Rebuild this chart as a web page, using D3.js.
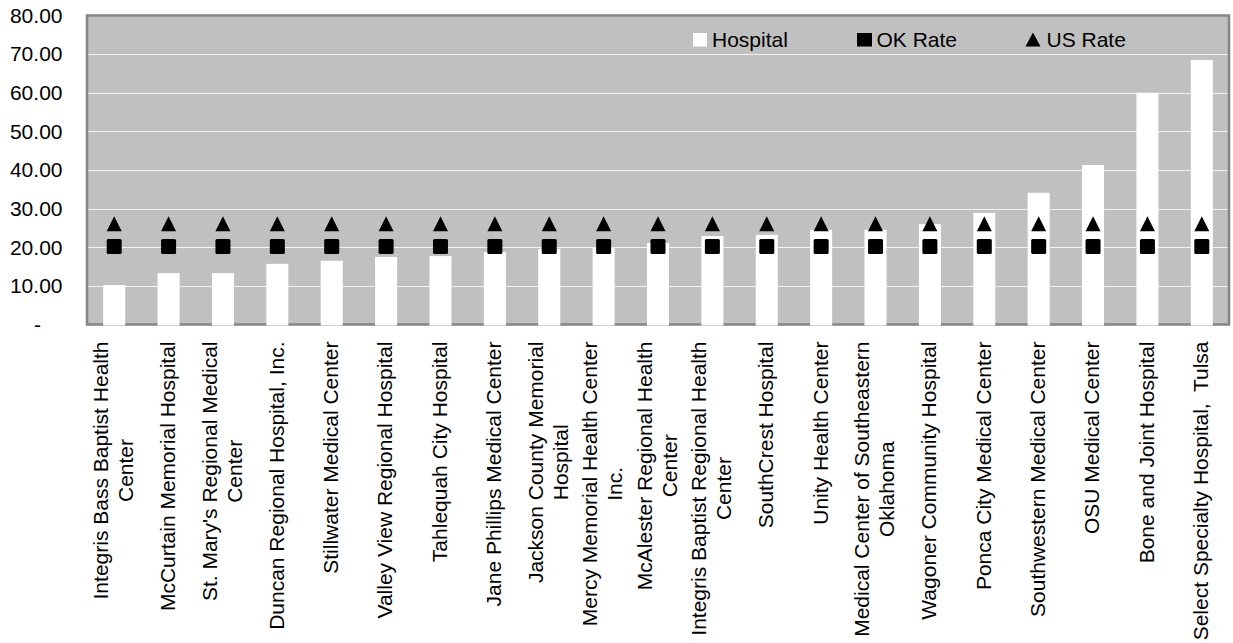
<!DOCTYPE html>
<html>
<head>
<meta charset="utf-8">
<script src="https://cdn.jsdelivr.net/npm/d3@7"></script>
<style>
  html, body { margin: 0; padding: 0; background: #ffffff; }
  svg { display: block; font-family: "Liberation Sans", Arial, sans-serif; }
</style>
</head>
<body>
<svg id="chart" width="1233" height="643"></svg>
<script>
// ---- data ----
const categories = [
  "Integris Bass Baptist Health\nCenter",
  "McCurtain Memorial Hospital",
  "St. Mary's Regional Medical\nCenter",
  "Duncan Regional Hospital, Inc.",
  "Stillwater Medical Center",
  "Valley View Regional Hospital",
  "Tahlequah City Hospital",
  "Jane Phillips Medical Center",
  "Jackson County Memorial\nHospital",
  "Mercy Memorial Health Center\nInc.",
  "McAlester Regional Health\nCenter",
  "Integris Baptist Regional Health\nCenter",
  "SouthCrest Hospital",
  "Unity Health Center",
  "Medical Center of Southeastern\nOklahoma",
  "Wagoner Community Hospital",
  "Ponca City Medical Center",
  "Southwestern Medical Center",
  "OSU Medical Center",
  "Bone and Joint Hospital",
  "Select Specialty Hospital,  Tulsa"
];
const hospitalValues = [10.2, 13.3, 13.3, 15.7, 16.5, 17.5, 17.7, 18.8, 19.6, 19.8, 21.1,
                        22.9, 23.2, 24.5, 24.5, 26.0, 28.9, 34.1, 41.3, 60.0, 68.5];
const okRate = categories.map(() => 20.2);
const usRate = categories.map(() => 26.1);
const yTickValues = [0, 10, 20, 30, 40, 50, 60, 70, 80];
const yTickLabels = ["-", "10.00", "20.00", "30.00", "40.00", "50.00", "60.00", "70.00", "80.00"];
const seriesNames = ["Hospital", "OK Rate", "US Rate"];

// ---- layout ----
const svg = d3.select("#chart");
const plot = { left: 87, top: 15.5, right: 1229, bottom: 324.5 };
const fontSize = 21;

const x = d3.scaleBand()
  .domain(d3.range(categories.length))
  .range([plot.left, plot.right])
  .paddingInner(0.595)
  .paddingOuter(0.2975);

const y = d3.scaleLinear().domain([0, 80]).range([plot.bottom, plot.top]);

// background
svg.append("rect")
  .attr("x", plot.left).attr("y", plot.top)
  .attr("width", plot.right - plot.left).attr("height", plot.bottom - plot.top)
  .attr("fill", "#c0c0c0");

// gridlines
svg.append("g").selectAll("line")
  .data(yTickValues.filter(v => v > 0 && v < 80))
  .join("line")
  .attr("x1", plot.left).attr("x2", plot.right)
  .attr("y1", d => Math.round(y(d)) + 0.5).attr("y2", d => Math.round(y(d)) + 0.5)
  .attr("stroke", "#f2f2f2").attr("stroke-width", 1);

// border
svg.append("rect")
  .attr("x", plot.left).attr("y", plot.top)
  .attr("width", plot.right - plot.left).attr("height", plot.bottom - plot.top)
  .attr("fill", "none").attr("stroke", "#858585").attr("stroke-width", 2.5);

// bars
svg.append("g").selectAll("rect")
  .data(hospitalValues)
  .join("rect")
  .attr("x", (d, i) => x(i))
  .attr("width", x.bandwidth())
  .attr("y", d => y(d))
  .attr("height", d => plot.bottom + 1 - y(d))
  .attr("fill", "#ffffff");

// OK rate squares
const sq = 15;
svg.append("g").selectAll("rect")
  .data(okRate)
  .join("rect")
  .attr("x", (d, i) => x(i) + x.bandwidth() / 2 - sq / 2)
  .attr("y", d => y(d) - sq / 2)
  .attr("width", sq).attr("height", sq)
  .attr("rx", 1.5)
  .attr("fill", "#000000");

// US rate triangles
const tri = d3.symbol().type(d3.symbolTriangle).size(100);
svg.append("g").selectAll("path")
  .data(usRate)
  .join("path")
  .attr("d", (d) => {
    const w = 15, h = 15;
    return `M0,${-h/2}L${w/2},${h/2}L${-w/2},${h/2}Z`;
  })
  .attr("transform", (d, i) => `translate(${x(i) + x.bandwidth() / 2},${y(d)})`)
  .attr("fill", "#000000");

// y axis labels
svg.append("g").selectAll("text")
  .data(yTickValues)
  .join("text")
  .attr("x", (d, i) => d === 0 ? 41 : 62.5)
  .attr("y", d => y(d))
  .attr("dy", "0.35em")
  .attr("text-anchor", "end")
  .attr("font-size", fontSize)
  .attr("fill", "#000")
  .text((d, i) => yTickLabels[i]);

// x labels (rotated)
const labelTop = 341.5;
const lineH = 25;
categories.forEach((name, i) => {
  const lines = name.split("\n");
  const cx = x(i) + x.bandwidth() / 2 - 1;
  const g = svg.append("g").attr("transform", `translate(${cx},${labelTop}) rotate(-90)`);
  const texts = lines.map((ln, k) => g.append("text")
    .attr("y", (k - (lines.length - 1) / 2) * lineH)
    .attr("dy", "0.35em")
    .attr("text-anchor", "middle")
    .attr("font-size", fontSize)
    .attr("fill", "#000")
    .style("white-space", "pre")
    .text(ln));
  const maxW = d3.max(texts, t => t.node().getComputedTextLength());
  texts.forEach(t => t.attr("x", -maxW / 2));
});

// legend
const legend = svg.append("g");
const legY = 39.5;
const legendItems = [
  { name: seriesNames[0], mx: 693, tx: 712, kind: "bar" },
  { name: seriesNames[1], mx: 857, tx: 876.5, kind: "square" },
  { name: seriesNames[2], mx: 1026, tx: 1046.5, kind: "triangle" }
];
legendItems.forEach(it => {
  if (it.kind === "bar") {
    legend.append("rect").attr("x", it.mx).attr("y", legY - 6.5).attr("width", 14).attr("height", 13.5).attr("fill", "#fff");
  } else if (it.kind === "square") {
    legend.append("rect").attr("x", it.mx).attr("y", legY - 6.5).attr("width", 15).attr("height", 13.5).attr("fill", "#000");
  } else {
    legend.append("path").attr("d", `M${it.mx + 7},${legY - 7}L${it.mx + 14.5},${legY + 7}L${it.mx - 0.5},${legY + 7}Z`).attr("fill", "#000");
  }
  legend.append("text")
    .attr("x", it.tx).attr("y", legY).attr("dy", "0.35em")
    .attr("font-size", fontSize).attr("fill", "#000")
    .text(it.name);
});
</script>
</body>
</html>
